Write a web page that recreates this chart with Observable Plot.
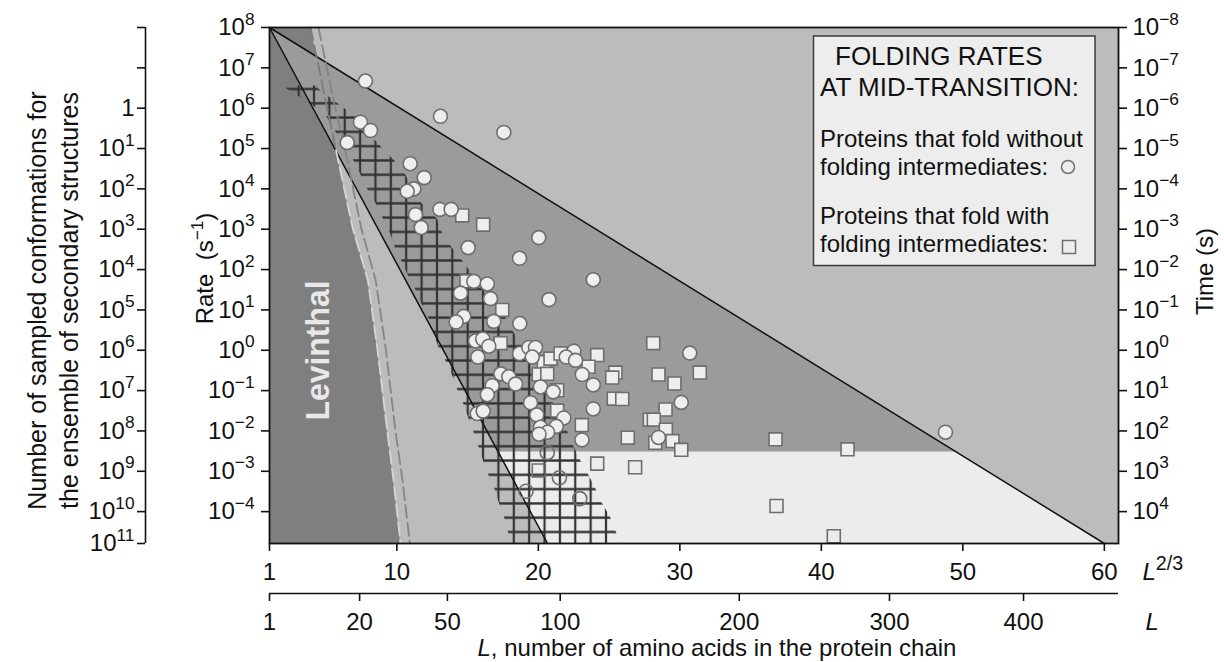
<!DOCTYPE html>
<html><head><meta charset="utf-8">
<script src="https://cdn.jsdelivr.net/npm/d3@7"></script>
<script src="https://cdn.jsdelivr.net/npm/@observablehq/plot@0.6"></script>
<style>
html,body{margin:0;padding:0;background:#fff;}
#wrap{position:relative;width:1224px;height:662px;overflow:hidden;}
#wrap > svg{display:block;}
#legend{position:absolute;left:0;top:0;}
</style></head><body>
<svg width="0" height="0" style="position:absolute;left:0;top:0">
  <defs>
    <pattern id="hatch" patternUnits="userSpaceOnUse" x="306.3" y="81.86" width="15.37" height="14.29">
      <path d="M7.685,0V14.29M0,7.145H15.37" stroke="#333" stroke-width="2.2" fill="none"/>
    </pattern>
  </defs>
</svg>
<div id="wrap">
<svg id="legend" width="1224" height="662" font-family="Liberation Sans, Arial, sans-serif" font-size="24" fill="#111">
  <rect x="813.5" y="36" width="281.5" height="229.5" fill="#ededed" stroke="#3a3a3a" stroke-width="1.5"/>
  <text x="835" y="65" font-size="26">FOLDING RATES</text>
  <text x="820" y="96" font-size="26">AT MID-TRANSITION:</text>
  <text x="820" y="147">Proteins that fold without</text>
  <text x="820" y="175">folding intermediates:</text>
  <circle cx="1068" cy="167" r="6.5" fill="#ededed" stroke="#707070" stroke-width="1.5"/>
  <text x="820" y="224">Proteins that fold with</text>
  <text x="820" y="252">folding intermediates:</text>
  <rect x="1062.5" y="240.5" width="13" height="13" fill="#ededed" stroke="#707070" stroke-width="1.5"/>
</svg>
</div>
<script>
// ---------- axis ranges ----------
const yMin = 10 ** -4.79;   // bottom of rate axis
const yMax = 1e8;           // top of rate axis
const xMin = 1, xMax = 61;  // L^(2/3)

// ---------- tick values / labels ----------
const rateTicks = [1e8,1e7,1e6,1e5,1e4,1e3,1e2,1e1,1e0,1e-1,1e-2,1e-3,1e-4];
const rateLabels = ["10^{8}","10^{7}","10^{6}","10^{5}","10^{4}","10^{3}","10^{2}","10^{1}","10^{0}","10^{−1}","10^{−2}","10^{−3}","10^{−4}"];
const timeLabels = ["10^{−8}","10^{−7}","10^{−6}","10^{−5}","10^{−4}","10^{−3}","10^{−2}","10^{−1}","10^{0}","10^{1}","10^{2}","10^{3}","10^{4}"];
const confTickRates = [1e8,1e7,1e6,1e5,1e4,1e3,1e2,1e1,1e0,1e-1,1e-2,1e-3,1e-4,yMin];
const confLabels = ["","","1","10^{1}","10^{2}","10^{3}","10^{4}","10^{5}","10^{6}","10^{7}","10^{8}","10^{9}","10^{10}","10^{11}"];
const l23Ticks = [1,10,20,30,40,50,60];
const lTicks = [1,20,50,100,200,300,400];

// ---------- boundary lines (x = L^(2/3)) ----------
const fastLineX = [1, 60];      // upper line, from top-left corner to axis bottom
const slowLineX = [1, 20.65];   // lower line
const lineRate = [yMax, yMin];
const lightTop = 10 ** -2.52;   // top of the very light zone

// Levinthal dashed curves
const dashRate = [1e8, 1.58e6, 9.1e4, 1e3, 55, 1.2, 0.0102, 5.9e-4, yMin];
const dash1X = [3.90, 4.96, 5.70, 6.9, 7.95, 8.61, 9.32, 9.77, 10.26];
const dash2X = [4.46, 5.52, 6.35, 7.5, 8.5, 9.2, 9.9, 10.4, 10.92];

// hatched band (log10 rate, left & right edge in L^(2/3))
const bandLog10 = [6.55,6.48,6.08,5.76,5.38,5.01,4.67,4.32,3.95,3.62,3.25,2.90,2.53,2.18,1.84,1.51,1.17,0.82,0.45,0.10,-0.25,-0.62,-0.97,-1.32,-1.66,-2.01,-2.36,-2.73,-3.08,-3.42,-3.80,-4.14,-4.52,-4.79];
const bandLeft = [2.20,2.20,4.04,5.10,5.73,6.37,7.01,7.50,8.00,8.56,9.06,9.55,9.90,10.40,10.82,11.32,11.74,12.24,12.59,12.94,13.44,13.93,14.29,14.71,15.06,15.42,15.77,16.12,16.48,16.90,17.25,17.61,17.89,18.17];
const bandRight = [4.46,4.46,5.95,7.22,8.00,8.99,9.90,10.68,11.11,11.81,12.87,13.23,13.93,14.71,15.42,16.12,16.76,17.68,18.24,18.88,19.45,20.01,20.51,21.07,21.57,22.06,22.48,22.98,23.54,24.04,24.53,25.10,25.52,25.81];

// ---------- proteins ----------
const circleX = [7.78,13.08,17.56,7.43,8.14,6.49,10.94,11.93,11.20,10.73,
  13.04,13.84,11.32,11.72,15.04,20.03,18.67,15.44,16.39,14.50,
  16.62,20.75,23.88,14.73,14.19,16.85,18.69,15.56,16.07,16.50,
  15.72,18.67,19.33,19.80,19.57,22.51,21.97,22.63,23.10,23.88,
  17.35,17.91,18.39,16.74,16.39,20.15,21.05,19.45,23.88,15.68,
  16.10,19.89,21.80,21.27,20.15,20.65,20.05,23.08,30.70,30.10,
  28.49,48.77,20.63,21.49,19.13,22.93];
const circleRate = [4.7e6,6.3e5,2.5e5,4.5e5,2.8e5,1.4e5,4.2e4,1.9e4,1.0e4,8.7e3,
  3.1e3,3.1e3,2.3e3,1.1e3,350,620,190,51,44,26,
  19,18,56,6.9,5.0,5.2,4.6,1.7,1.9,1.26,
  0.68,0.83,1.17,1.17,0.68,0.95,0.68,0.56,0.25,0.138,
  0.26,0.22,0.145,0.132,0.079,0.123,0.093,0.050,0.035,0.027,
  0.031,0.025,0.021,0.013,0.0123,0.0093,0.0083,0.0060,0.85,0.051,
  0.0069,0.0093,0.0029,6.9e-4,3.2e-4,2.1e-4];
const squareX = [14.62,16.10,17.45,17.33,20.39,20.86,21.57,24.16,23.54,20.03,
  20.63,25.45,25.22,25.33,25.93,21.33,21.33,23.07,28.12,28.49,
  29.62,31.41,28.99,27.88,28.16,29.01,26.32,28.26,29.48,30.10,
  36.76,41.85,20.03,24.16,26.84,36.83,40.88,14.92];
const squareRate = [2200,1300,10,1.5,0.51,0.62,0.83,0.76,0.39,0.25,
  0.26,0.28,0.21,0.063,0.062,0.102,0.032,0.014,1.5,0.25,
  0.15,0.28,0.034,0.019,0.019,0.0107,0.0068,0.0051,0.0056,0.0034,
  0.0062,0.0035,0.00105,0.00155,0.00126,1.38e-4,2.45e-5,51];

// ---------- build tables ----------
const circles = circleX.map((x, i) => ({x, rate: circleRate[i]}));
const squares = squareX.map((x, i) => ({x, rate: squareRate[i]}));
const fastLine = fastLineX.map((x, i) => ({x, rate: lineRate[i]}));
const slowLine = slowLineX.map((x, i) => ({x, rate: lineRate[i]}));
const dash1 = dash1X.map((x, i) => ({x, rate: dashRate[i]}));
const dash2 = dash2X.map((x, i) => ({x, rate: dashRate[i]}));
const levinthal = dash1X.map((x, i) => ({rate: dashRate[i], lo: xMin, hi: x}));
const wedge = lineRate.map((r, i) => ({rate: r, lo: slowLineX[i], hi: fastLineX[i]}));
const frac = (Math.log10(yMax) - Math.log10(lightTop)) / (Math.log10(yMax) - Math.log10(yMin));
const light = [
  {rate: lightTop, lo: slowLineX[0] + (slowLineX[1] - slowLineX[0]) * frac, hi: fastLineX[0] + (fastLineX[1] - fastLineX[0]) * frac},
  {rate: yMin, lo: slowLineX[1], hi: fastLineX[1]}
];
const band = bandLog10.map((v, i) => ({rate: 10 ** v, lo: bandLeft[i], hi: bandRight[i]}));
const rateMap = new Map(rateTicks.map((r, i) => [r, rateLabels[i]]));
const timeMap = new Map(rateTicks.map((r, i) => [r, timeLabels[i]]));
const confMap = new Map(confTickRates.map((r, i) => [r, confLabels[i]]));
const lPos = lTicks.map(L => L ** (2 / 3));

const FS = 24;
const filled = d => d.rate >= lightTop;
const hollow = d => d.rate < lightTop;

const chart = Plot.plot({
  width: 1224, height: 662,
  marginLeft: 269, marginRight: 106, marginTop: 27, marginBottom: 119,
  x: {domain: [xMin, xMax]},
  y: {type: "log", domain: [yMin, yMax]},
  style: {fontFamily: "Liberation Sans, Arial, sans-serif", fontSize: FS + "px", background: "white", color: "#111"},
  marks: [
    Plot.frame({fill: "#bcbcbc", stroke: null}),
    Plot.areaX(levinthal, {y: "rate", x1: "lo", x2: "hi", fill: "#7f7f7f"}),
    Plot.areaX(wedge, {y: "rate", x1: "lo", x2: "hi", fill: "#9b9b9b"}),
    Plot.areaX(light, {y: "rate", x1: "lo", x2: "hi", fill: "#ececec"}),
    Plot.areaX(band, {y: "rate", x1: "lo", x2: "hi", fill: "url(#hatch)"}),
    Plot.line(fastLine, {x: "x", y: "rate", stroke: "#111", strokeWidth: 1.5}),
    Plot.line(slowLine, {x: "x", y: "rate", stroke: "#111", strokeWidth: 1.5}),
    Plot.line(dash1.slice(0, 3), {x: "x", y: "rate", stroke: "#7c7c7c", strokeWidth: 1.8, strokeDasharray: "13,5"}),
    Plot.line(dash1.slice(2), {x: "x", y: "rate", stroke: "#d6d6d6", strokeWidth: 1.8, strokeDasharray: "13,5"}),
    Plot.line(dash2, {x: "x", y: "rate", stroke: "#858585", strokeWidth: 1.8, strokeDasharray: "13,5"}),
    Plot.text(["Levinthal"], {text: d => d, frameAnchor: "left", dx: 49, dy: 65, rotate: -90, fontSize: 34, fontWeight: "bold", fill: "#e8e8e8", textAnchor: "middle", ariaLabel: "levinthal-label"}),
    Plot.dot(squares.filter(filled), {x: "x", y: "rate", symbol: "square", r: 7.3, fill: "#eeeeee", stroke: "#6e6e6e", strokeWidth: 1.6}),
    Plot.dot(squares.filter(hollow), {x: "x", y: "rate", symbol: "square", r: 7.3, fill: "none", stroke: "#6e6e6e", strokeWidth: 1.6}),
    Plot.dot(circles.filter(filled), {x: "x", y: "rate", r: 7, fill: "#eeeeee", stroke: "#6e6e6e", strokeWidth: 1.6}),
    Plot.dot(circles.filter(hollow), {x: "x", y: "rate", r: 7, fill: "none", stroke: "#6e6e6e", strokeWidth: 1.6}),
    // axes
    Plot.axisY({anchor: "left", ticks: rateTicks, tickFormat: d => rateMap.get(d), tickSize: 8, tickPadding: 7, fontSize: FS, label: null, strokeWidth: 1.6}),
    Plot.axisY({anchor: "right", ticks: rateTicks, tickFormat: d => timeMap.get(d), tickSize: 8, tickPadding: 6, fontSize: FS, label: null, strokeWidth: 1.6}),
    Plot.axisY({anchor: "left", dx: -124, ticks: confTickRates, tickFormat: d => confMap.get(d), tickSize: 8, tickPadding: 3, fontSize: FS, label: null, strokeWidth: 1.6}),
    Plot.ruleX([xMin], {y1: yMin, y2: yMax, dx: -124, stroke: "#111", strokeWidth: 1.6}),
    Plot.axisX({anchor: "bottom", ticks: l23Ticks, tickFormat: d => String(d), tickSize: 8, tickPadding: 11, fontSize: FS, label: null, strokeWidth: 1.6}),
    Plot.axisX({anchor: "bottom", dy: 50, ticks: lPos, tickFormat: d => String(Math.round(d ** 1.5)), tickSize: 8, tickPadding: 11, fontSize: FS, label: null, strokeWidth: 1.6}),
    Plot.ruleY([yMin], {x1: xMin, x2: xMax, dy: 50, stroke: "#111", strokeWidth: 1.6}),
    Plot.frame({stroke: "#111", strokeWidth: 1.8}),
    // axis titles
    Plot.text(["Rate\u00a0\u00a0(s^{−1})"], {text: d => d, frameAnchor: "left", dx: -64, dy: -17, rotate: -90, fontSize: FS, textAnchor: "middle"}),
    Plot.text(["Time (s)"], {text: d => d, frameAnchor: "right", dx: 87, dy: -14, rotate: -90, fontSize: FS, textAnchor: "middle"}),
    Plot.text(["Number of sampled conformations for\nthe ensemble of secondary structures"], {text: d => d, frameAnchor: "left", dx: -218, dy: 15, rotate: -90, fontSize: 25, textAnchor: "middle", lineHeight: 1.28}),
    Plot.text(["*L*^[2/3]"], {text: d => d, frameAnchor: "bottom-right", dx: 24, dy: 36, fontSize: FS, textAnchor: "start", lineAnchor: "bottom"}),
    Plot.text(["*L*"], {text: d => d, frameAnchor: "bottom-right", dx: 27, dy: 86, fontSize: FS, textAnchor: "start", lineAnchor: "bottom"}),
    Plot.text(["*L*, number of amino acids in the protein chain"], {text: d => d, frameAnchor: "bottom-left", dx: 208, dy: 112, fontSize: FS, textAnchor: "start", lineAnchor: "bottom"})
  ]
});

const wrap = document.getElementById("wrap");
wrap.insertBefore(chart, wrap.firstChild);

// rich text: ^{...} superscript, ^[...] large superscript, *...* italic
(function richText(root) {
  const ns = "http://www.w3.org/2000/svg";
  root.querySelectorAll("text").forEach(t => {
    const spans = t.querySelectorAll("tspan");
    const targets = spans.length ? Array.from(spans) : [t];
    targets.forEach(el => {
      const s = el.textContent;
      if (!/\^\{|\^\[|\*/.test(s)) return;
      const base = parseFloat(getComputedStyle(el).fontSize) || FS;
      el.textContent = "";
      const re = /\^\{([^}]*)\}|\^\[([^\]]*)\]|\*([^*]+)\*|([^\^*]+)/g;
      let m, shift = 0;
      while ((m = re.exec(s))) {
        const ts = document.createElementNS(ns, "tspan");
        if (m[1] != null || m[2] != null) {
          const big = m[2] != null;
          const target = -base * (big ? 0.4 : 0.44);
          ts.textContent = big ? m[2] : m[1];
          ts.setAttribute("font-size", (base * (big ? 0.82 : 0.72)).toFixed(1));
          ts.setAttribute("dy", (target - shift).toFixed(2));
          shift = target;
        } else {
          ts.textContent = m[3] != null ? m[3] : m[4];
          if (m[3] != null) ts.setAttribute("font-style", "italic");
          if (shift !== 0) { ts.setAttribute("dy", (-shift).toFixed(2)); shift = 0; }
        }
        el.appendChild(ts);
      }
    });
  });
  // stretch the Levinthal label to its length in the original
  root.querySelectorAll("text").forEach(t => {
    if (t.textContent === "Levinthal") {
      t.setAttribute("textLength", "140");
      t.setAttribute("lengthAdjust", "spacingAndGlyphs");
    }
  });
})(chart);
</script>
</body></html>
